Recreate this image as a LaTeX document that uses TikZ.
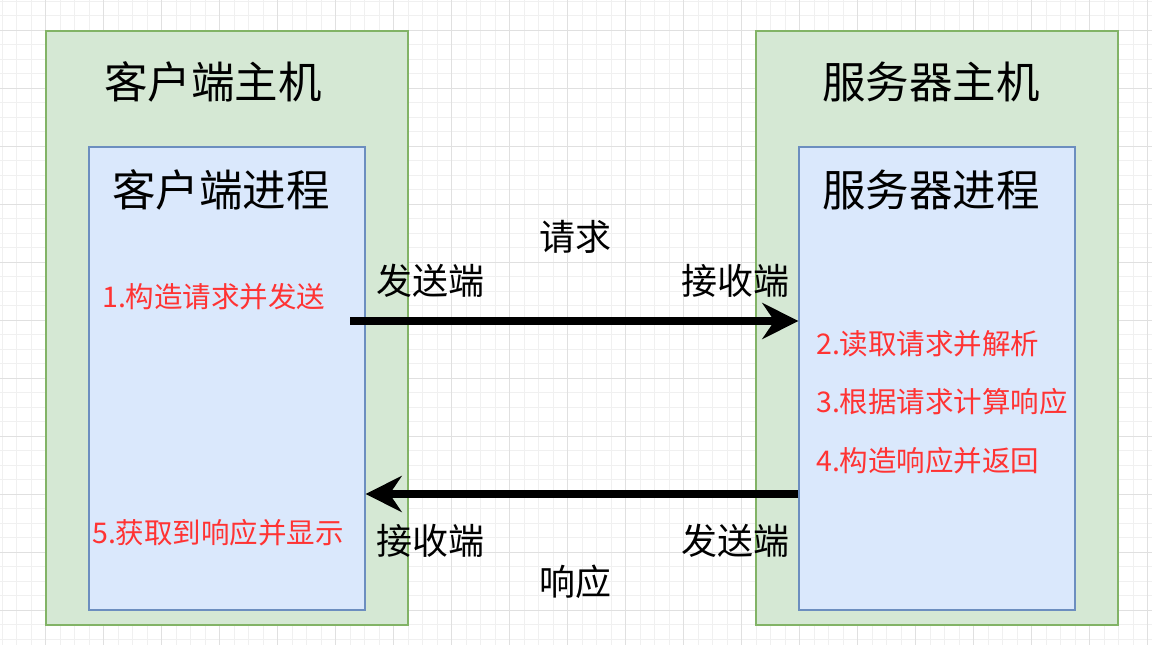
\documentclass[tikz,border=0pt]{standalone}
\usepackage{fontspec}
\setmainfont{Noto Sans CJK SC}
\usepackage{tikz}
\usetikzlibrary{arrows.meta,positioning}
\definecolor{hostgreen}{RGB}{213,232,212}
\definecolor{hostgreenb}{RGB}{130,179,102}
\definecolor{procblue}{RGB}{218,232,252}
\definecolor{procblueb}{RGB}{108,142,191}
\definecolor{steptext}{RGB}{255,51,51}
\definecolor{gridminor}{RGB}{240,240,240}
\definecolor{gridmajor}{RGB}{224,224,224}
\tikzset{
  hostbox/.style={rectangle, draw=hostgreenb, fill=hostgreen, line width=1.3pt,
                  minimum width=362pt, minimum height=594pt, inner sep=0pt},
  procbox/.style={rectangle, draw=procblueb, fill=procblue, line width=1.3pt,
                  minimum width=276pt, minimum height=463pt, inner sep=0pt},
  hosttitle/.style={font=\fontsize{43.5}{50}\selectfont, inner sep=0pt},
  proctitle/.style={font=\fontsize{43.5}{50}\selectfont, inner sep=0pt},
  msglabel/.style={font=\fontsize{36}{42}\selectfont, inner sep=0pt},
  endlabel/.style={font=\fontsize{36}{42}\selectfont, inner sep=0pt},
  steplabel/.style={font=\fontsize{28.5}{34}\selectfont, text=steptext,
                    anchor=west, inner sep=0pt},
  msgarrow/.style={-{Stealth[length=36pt, width=36pt, inset=12pt]},
                   line width=8pt, black},
}

\begin{document}
\begin{tikzpicture}[x=1pt, y=-1pt]
  \useasboundingbox (0,0) rectangle (1152,645);
  % background grid
  \foreach \gx in {2.2,16.7,...,1152} {\draw[gridminor, line width=0.8pt] (\gx,0) -- (\gx,645);}
  \foreach \gy in {1,15.5,...,645} {\draw[gridminor, line width=0.8pt] (0,\gy) -- (1152,\gy);}
  \foreach \gx in {45.7,103.7,...,1152} {\draw[gridmajor, line width=0.8pt] (\gx,0) -- (\gx,645);}
  \foreach \gy in {30,88,...,645} {\draw[gridmajor, line width=0.8pt] (0,\gy) -- (1152,\gy);}

  % client side
  \node[hostbox] (clienthost) at (227,328) {};
  \node[procbox] (clientproc) at (227,378.5) {};
  \node[hosttitle] (clienthosttitle) at (213,82) {客户端主机};
  \node[proctitle] (clientproctitle) at (221,190) {客户端进程};
  \node[steplabel] (step1) at (102,297) {1.构造请求并发送};
  \node[steplabel] (step5) at (92,533) {5.获取到响应并显示};

  % server side
  \node[hostbox] (serverhost) at (937,328) {};
  \node[procbox] (serverproc) at (937,378.5) {};
  \node[hosttitle] (serverhosttitle) at (931,82) {服务器主机};
  \node[proctitle] (serverproctitle) at (931,190) {服务器进程};
  \node[steplabel] (step2) at (816,344) {2.读取请求并解析};
  \node[steplabel] (step3) at (816,402) {3.根据请求计算响应};
  \node[steplabel] (step4) at (816,461) {4.构造响应并返回};

  % request / response
  \coordinate (reqstart) at (350,321);
  \coordinate (respy) at (0,494);
  \draw[msgarrow] (reqstart) -- (serverproc.west |- reqstart);
  \draw[msgarrow] (serverproc.west |- respy) -- (clientproc.east |- respy);
  \node[msglabel] (reqlabel) at (575,237) {请求};
  \node[msglabel] (resplabel) at (575,582) {响应};
  \node[endlabel] (reqsend) at (430,281) {发送端};
  \node[endlabel] (reqrecv) at (735,281) {接收端};
  \node[endlabel] (resprecv) at (430,541) {接收端};
  \node[endlabel] (respsend) at (735,541) {发送端};
\end{tikzpicture}
\end{document}
